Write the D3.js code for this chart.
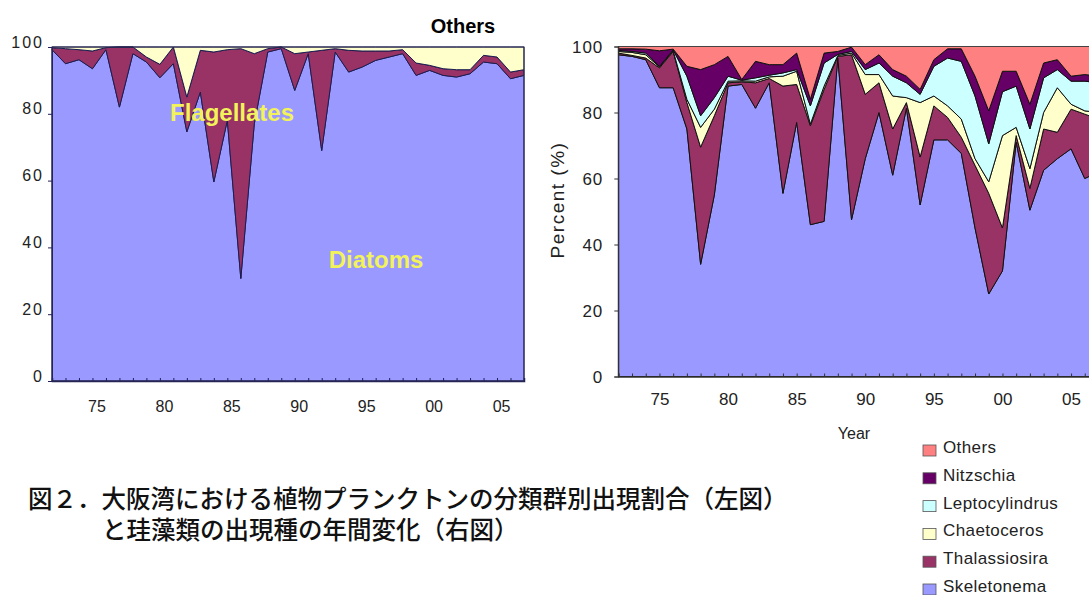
<!DOCTYPE html>
<html>
<head>
<meta charset="utf-8">
<script src="https://cdn.jsdelivr.net/npm/d3@7"></script>
<style>
  body { margin: 0; background: #fff; overflow: hidden; }
  text { font-family: "Liberation Sans", Arial, sans-serif; }
</style>
</head>
<body>
<svg id="chart" width="1089" height="595"></svg>
<script>
// years on the category axis (one sample per year)
const years = [1972, 1973, 1974, 1975, 1976, 1977, 1978, 1979, 1980, 1981, 1982, 1983,
  1984, 1985, 1986, 1987, 1988, 1989, 1990, 1991, 1992, 1993, 1994, 1995,
  1996, 1997, 1998, 1999, 2000, 2001, 2002, 2003, 2004, 2005, 2006, 2007]
const tickYears = [1975, 1980, 1985, 1990, 1995, 2000, 2005]
const tickLabels = ['75', '80', '85', '90', '95', '00', '05']
const yTicks = [0, 20, 40, 60, 80, 100]

// left panel: taxonomic groups (%)
const groupNames = ['Diatoms', 'Flagellates', 'Others']
const diatoms = [99.2, 95, 96.2, 93.5, 99.2, 82, 98, 95.5, 90.8, 95, 74.6, 86.5, 59.6, 78, 30.7, 77, 98.5, 99.5,
  87, 98, 69, 98.5, 92.5, 94, 96, 97, 98, 91.5, 93, 91.5, 91, 92, 95.5, 95, 90.5, 91.5]
const flagellates = [0.6, 4.5, 3, 5.3, 0.6, 18, 2, 1.5, 4, 5, 10.4, 12.5, 38.9, 21.2, 68.8, 21, 1, 0.5,
  11, 0.5, 30, 1, 6.5, 4.8, 2.8, 1.8, 1.2, 3.7, 1.5, 2, 2.2, 1.2, 2, 2, 2, 1.7]
const groupOthers = [0.2, 0.5, 0.8, 1.2, 0.2, 0, 0, 3, 5.2, 0, 15, 1, 1.5, 0.8, 0.5, 2, 0.5, 0,
  2, 1.5, 1, 0.5, 1, 1.2, 1.2, 1.2, 0.8, 4.8, 5.5, 6.5, 6.8, 6.8, 2.5, 3, 7.5, 6.8]

// right panel: diatom species (%)
const speciesNames = ['Skeletonema', 'Thalassiosira', 'Chaetoceros', 'Leptocylindrus', 'Nitzschia', 'Others']
const skeletonema = [97.5, 97, 96, 87.5, 87.5, 75, 34, 55, 88, 88.5, 81.3, 89, 55.5, 77, 46, 47, 96.5, 47.5,
  66, 80, 61, 81.3, 52, 71.7, 71.7, 67.6, 45, 25, 32, 71, 50.4, 62.5, 66, 69, 60, 62]
const thalassiosira = [0.5, 0.3, 0.5, 6, 11, 8, 35.5, 24, 1, 0.8, 7.7, 1.3, 32.5, 11.5, 30, 40, 0.5, 50,
  19.5, 9, 14, 1.7, 14.5, 10.3, 6.8, 4.9, 19, 30.5, 13, 2, 6.6, 12.5, 8, 12, 19.5, 16]
const chaetoceros = [0.5, 0.9, 1, 0.3, 0.2, 1, 6, 2, 0.5, 0.3, 0.5, 0.5, 3, 4, 0.5, 1, 0.3, 0.5,
  6, 2.5, 10, 1.5, 16.5, 3, 3.5, 5.5, 2, 3.5, 28, 2.5, 6, 5, 13.5, 1.5, 1, 2]
const leptocylindrus = [0.3, 0.3, 0.5, 0.2, 0.3, 7, 3.5, 3.5, 1.5, 0.2, 1, 0.5, 1, 0.5, 5.5, 7, 0.3, 0.5,
  1.5, 3.5, 6, 4.5, 2.5, 9, 14.5, 17.5, 19, 11.5, 13.3, 12.5, 12, 10.5, 5.5, 7, 9, 9]
const nitzschia = [0.5, 0.8, 1.2, 4.7, 0.2, 3, 14, 10, 6, 0.2, 5, 3.2, 2.5, 5, 2, 3, 0.9, 1.3,
  1.5, 2.5, 2, 2, 1.5, 2, 2.8, 3.8, 6, 10, 6.2, 4.5, 7.5, 4.5, 3, 1.5, 2, 2]
const speciesOthers = [0.7, 0.7, 0.8, 1.3, 0.8, 6, 7, 5.5, 3, 10, 4.5, 5.5, 5.5, 2, 16, 2, 1.5, 0.2,
  5.5, 2.5, 7, 9, 13, 4, 0.7, 0.7, 9, 19.5, 7.5, 7.5, 17.5, 5, 4, 9, 8.5, 9]

const groupColors = ['#9999ff', '#993366', '#ffffcc']
const speciesColors = ['#9999ff', '#993366', '#ffffcc', '#ccffff', '#660066', '#ff8080']

const svg = d3.select('#chart')

function drawPanel(opt) {
  const x = d3.scaleLinear()
    .domain([years[0], years[years.length - 1]])
    .range(opt.xRange)
  const y = d3.scaleLinear()
    .domain([0, 100])
    .range(opt.yRange)

  const rows = years.map((yr, i) => {
    const row = { year: yr }
    opt.keys.forEach((k, j) => { row[k] = opt.series[j][i] })
    return row
  })
  const layers = d3.stack().keys(opt.keys)(rows)

  const area = d3.area()
    .x(d => x(d.data.year))
    .y0(d => y(d[0]))
    .y1(d => y(d[1]))

  const g = svg.append('g').attr('class', opt.name)

  g.selectAll('.layer')
    .data(layers)
    .join('path')
    .attr('class', 'layer')
    .attr('d', area)
    .attr('fill', (d, i) => opt.colors[i])
    .attr('stroke', opt.lineColor)
    .attr('stroke-width', 1)
    .attr('stroke-linejoin', 'round')

  // minor ticks, every year, pointing into the plot
  g.append('g')
    .attr('transform', `translate(0, ${opt.yRange[0]})`)
    .call(d3.axisBottom(x).tickValues(years).tickSize(-3).tickFormat(''))
    .call(a => a.selectAll('line').attr('stroke', opt.axisColor))
    .call(a => a.select('.domain').attr('stroke', opt.axisColor).attr('stroke-width', 1.5))

  // year labels
  g.append('g')
    .attr('transform', `translate(0, ${opt.yRange[0]})`)
    .call(d3.axisBottom(x).tickValues(tickYears).tickSize(0).tickPadding(opt.xPad)
      .tickFormat((d, i) => tickLabels[i]))
    .call(a => a.select('.domain').remove())
    .call(a => a.selectAll('text')
      .attr('dx', opt.xLabelShift)
      .attr('fill', '#222')
      .style('font-size', opt.fontSize + 'px')
      .style('font-family', '"Liberation Sans", Arial, sans-serif'))

  // value axis
  g.append('g')
    .attr('transform', `translate(${opt.xRange[0]}, 0)`)
    .call(d3.axisLeft(y).tickValues(yTicks).tickSize(4).tickPadding(opt.yPad))
    .call(a => a.select('.domain').attr('stroke', opt.axisColor))
    .call(a => a.selectAll('line').attr('stroke', opt.axisColor))
    .call(a => a.selectAll('text')
      .attr('y', opt.yLabelShift)
      .attr('fill', '#222')
      .style('font-size', opt.fontSize + 'px')
      .style('letter-spacing', opt.letterSpacing + 'px')
      .style('font-family', '"Liberation Sans", Arial, sans-serif'))

  return { x, y, g }
}

const left = drawPanel({
  name: 'groups',
  keys: groupNames,
  series: [diatoms, flagellates, groupOthers],
  colors: groupColors,
  xRange: [52, 524],
  yRange: [381, 47],
  lineColor: '#1c1c50',
  axisColor: '#20205a',
  xPad: 20,
  xLabelShift: 4,
  yPad: 4,
  yLabelShift: -5,
  fontSize: 16,
  letterSpacing: 2
})

// frame of left plot
left.g.append('rect')
  .attr('x', 52).attr('y', 47)
  .attr('width', 472).attr('height', 334)
  .attr('fill', 'none')
  .attr('stroke', '#2a2a50')
  .attr('stroke-width', 1)

left.g.append('text')
  .attr('x', 463).attr('y', 33)
  .attr('text-anchor', 'middle')
  .style('font-size', '20px')
  .style('font-weight', 'bold')
  .text('Others')

left.g.append('text')
  .attr('x', 232).attr('y', 121)
  .attr('text-anchor', 'middle')
  .attr('fill', '#f2f25a')
  .style('font-size', '24px')
  .style('font-weight', 'bold')
  .text('Flagellates')

left.g.append('text')
  .attr('x', 376).attr('y', 268)
  .attr('text-anchor', 'middle')
  .attr('fill', '#f2f25a')
  .style('font-size', '24px')
  .style('font-weight', 'bold')
  .text('Diatoms')

const right = drawPanel({
  name: 'species',
  keys: speciesNames,
  series: [skeletonema, thalassiosira, chaetoceros, leptocylindrus, nitzschia, speciesOthers],
  colors: speciesColors,
  xRange: [618.3, 618.3 + 35 * 13.72],
  yRange: [376.5, 46.5],
  lineColor: '#111',
  axisColor: '#333',
  xPad: 16,
  xLabelShift: 0,
  yPad: 11,
  yLabelShift: 1,
  fontSize: 17,
  letterSpacing: 1
})

right.g.append('line')
  .attr('x1', 618.3).attr('x2', 1089)
  .attr('y1', 46.5).attr('y2', 46.5)
  .attr('stroke', '#444')

right.g.append('text')
  .attr('transform', 'translate(564, 200) rotate(-90)')
  .attr('text-anchor', 'middle')
  .attr('fill', '#222')
  .style('font-size', '19px')
  .style('letter-spacing', '1.5px')
  .text('Percent (%)')

right.g.append('text')
  .attr('x', 854).attr('y', 439)
  .attr('text-anchor', 'middle')
  .attr('fill', '#222')
  .style('font-size', '16px')
  .text('Year')

// legend, top entry is the top layer
const legendItems = speciesNames.map((n, i) => ({ name: n, color: speciesColors[i] })).reverse()
const legend = svg.append('g').attr('class', 'legend')
  .selectAll('g')
  .data(legendItems)
  .join('g')
  .attr('transform', (d, i) => `translate(923, ${448 + i * 27.8})`)

legend.append('rect')
  .attr('x', 0).attr('y', -3)
  .attr('width', 13).attr('height', 11)
  .attr('fill', d => d.color)
  .attr('stroke', '#555')
  .attr('stroke-width', 0.8)

legend.append('text')
  .attr('x', 20).attr('y', 5)
  .attr('fill', '#222')
  .style('font-size', '17px')
  .style('letter-spacing', '0.4px')
  .text(d => d.name)

// caption
const captionLines = [
  { text: '図２．大阪湾における植物プランクトンの分類群別出現割合（左図）', x: 28, y: 508 },
  { text: 'と珪藻類の出現種の年間変化（右図）', x: 102, y: 539 }
]
svg.append('g').attr('class', 'caption')
  .selectAll('text')
  .data(captionLines)
  .join('text')
  .attr('x', d => d.x)
  .attr('y', d => d.y)
  .attr('fill', '#111')
  .style('font-family', '"Liberation Sans", "Noto Sans CJK JP", sans-serif')
  .style('font-size', '24.5px')
  .style('font-weight', '500')
  .text(d => d.text)
</script>
</body>
</html>
